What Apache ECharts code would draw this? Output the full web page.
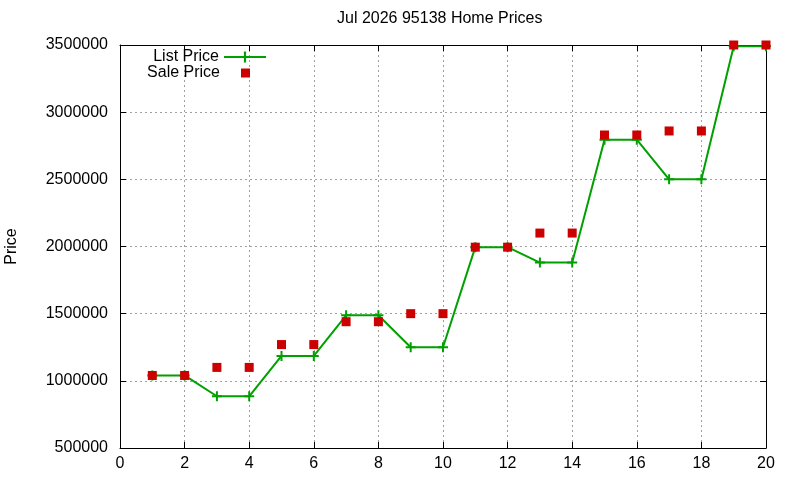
<!DOCTYPE html>
<html>
<head>
<meta charset="utf-8">
<script src="https://cdn.jsdelivr.net/npm/echarts@6/dist/echarts.min.js"></script>
<style>
  html, body { margin: 0; padding: 0; background: #fff; }
  #chart { width: 800px; height: 480px; }
</style>
</head>
<body>
<div id="chart"></div>
<script>
// Home prices by listing index
const months = [1, 2, 3, 4, 5, 6, 7, 8, 9, 10, 11, 12, 13, 14, 15, 16, 17, 18, 19, 20];
const listPrice = [1040000, 1040000, 885000, 885000, 1185000, 1185000, 1488000, 1488000, 1250000, 1250000,
  1995000, 1995000, 1880000, 1880000, 2795000, 2795000, 2500000, 2500000, 3490000, 3490000];
const salePrice = [1040000, 1040000, 1100000, 1100000, 1270000, 1270000, 1440000, 1440000, 1500000, 1500000,
  1995000, 1995000, 2100000, 2100000, 2830000, 2830000, 2860000, 2860000, 3500000, 3500000];
const xTicks = { min: 0, max: 20, interval: 2 };
const yTicks = { min: 500000, max: 3500000, interval: 500000 };

const FONT = 'Liberation Sans';
const GREEN = '#00a000';
const RED = '#cc0000';

// plus-shaped marker like gnuplot's point type 1
const PLUS = 'path://M4,0h2v4h4v2h-4v4h-2v-4h-4v-2h4z';

const chart = echarts.init(document.getElementById('chart'));

const baseX = {
  type: 'value',
  min: xTicks.min,
  max: xTicks.max,
  interval: xTicks.interval,
  axisLine: { show: true, onZero: false, lineStyle: { color: '#000', width: 1 } },
  axisTick: { show: true, inside: true, length: 6, lineStyle: { color: '#000' } },
  axisLabel: { color: '#000', fontFamily: FONT, fontSize: 16, margin: 8 },
  splitLine: { show: true, lineStyle: { color: '#a0a0a0', type: [2, 3], width: 1 } }
};
const baseY = {
  type: 'value',
  min: yTicks.min,
  max: yTicks.max,
  interval: yTicks.interval,
  axisLine: { show: true, onZero: false, lineStyle: { color: '#000', width: 1 } },
  axisTick: { show: true, inside: true, length: 6, lineStyle: { color: '#000' } },
  axisLabel: { color: '#000', fontFamily: FONT, fontSize: 16, margin: 12, formatter: v => String(v) },
  splitLine: { show: true, lineStyle: { color: '#a0a0a0', type: [2, 3], width: 1 } }
};

const option = {
  animation: false,
  backgroundColor: '#fff',
  title: {
    text: 'Jul 2026 95138 Home Prices',
    left: 337,
    top: 11,
    padding: 0,
    textStyle: { color: '#000', fontFamily: FONT, fontSize: 16, fontWeight: 'normal' }
  },
  legend: [
    {
      data: [{ name: 'List Price' }],
      right: 533,
      top: 49,
      padding: 0,
      align: 'right',
      itemWidth: 42,
      itemHeight: 14,
      textStyle: { color: '#000', fontFamily: FONT, fontSize: 16, lineHeight: 14 }
    },
    {
      data: [{ name: 'Sale Price', icon: 'path://M0,0M42,14M16,2.5h9v9h-9z' }],
      right: 533,
      top: 65,
      padding: 0,
      align: 'right',
      itemWidth: 42,
      itemHeight: 14,
      textStyle: { color: '#000', fontFamily: FONT, fontSize: 16, lineHeight: 14 }
    }
  ],
  grid: { left: 120, right: 34, top: 45, bottom: 32, containLabel: false, outerBoundsMode: 'none' },
  xAxis: [
    baseX,
    Object.assign({}, baseX, {
      position: 'top',
      axisLabel: { show: false },
      splitLine: { show: false }
    })
  ],
  yAxis: [
    Object.assign({}, baseY, {
      name: 'Price',
      nameLocation: 'middle',
      nameRotate: 90,
      nameGap: 100,
      nameTextStyle: { color: '#000', fontFamily: FONT, fontSize: 16 }
    }),
    Object.assign({}, baseY, {
      position: 'right',
      axisLabel: { show: false },
      splitLine: { show: false }
    })
  ],
  series: [
    {
      name: 'List Price',
      type: 'line',
      data: months.map((m, i) => [m, listPrice[i]]),
      symbol: PLUS,
      symbolSize: 10,
      showSymbol: true,
      lineStyle: { color: GREEN, width: 2 },
      itemStyle: { color: GREEN },
      z: 2
    },
    {
      name: 'Sale Price',
      type: 'scatter',
      data: months.map((m, i) => [m, salePrice[i]]),
      symbol: 'rect',
      symbolSize: 9,
      itemStyle: { color: RED, opacity: 1 },
      z: 3
    }
  ]
};

chart.setOption(option);
</script>
</body>
</html>
